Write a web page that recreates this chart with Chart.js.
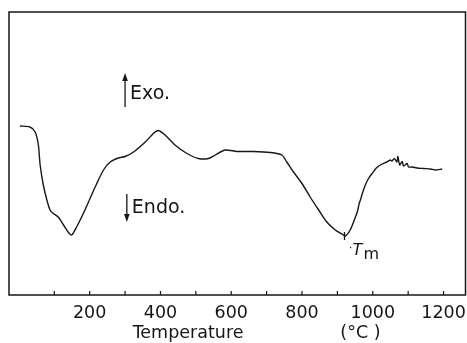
<!DOCTYPE html>
<html>
<head>
<meta charset="utf-8">
<script src="https://cdn.jsdelivr.net/npm/chart.js@4"></script>
<style>
  html, body { margin: 0; padding: 0; background: #fff; }
  #wrap { width: 467px; height: 343px; }
</style>
</head>
<body>
<div id="wrap"><canvas id="dta"></canvas></div>
<script>
// DTA trace (temperature in degC, signal in arbitrary units)
const temps = [3, 31, 46, 55, 60, 69, 79, 88, 97, 111, 126, 140, 149, 163, 182, 201, 220, 239, 258, 281,
  300, 324, 357, 380, 394, 413, 441, 475, 507, 536, 555, 583, 616, 663, 710, 743, 757, 776, 800, 823,
  847, 870, 894, 913, 922, 936, 951, 957, 962, 965, 970, 979, 988, 998, 1010, 1026, 1040, 1049, 1054,
  1061, 1068, 1071, 1076, 1083, 1087, 1097, 1101, 1111, 1125, 1144, 1163, 1177, 1196]
const signal = [169, 168, 163, 150, 130, 110, 95, 85, 81.5, 78, 70, 62.5, 60, 68, 81.5, 96.5, 111.5, 125, 133, 137,
  138.5, 143, 153, 161.5, 164.5, 160, 150, 141.5, 136.5, 136.5, 140, 145, 143.5, 143.5, 142.5, 140, 133, 123, 111.5, 98,
  85, 73, 65, 61, 59, 65, 78, 84, 92, 95, 101, 110, 116.5, 121.5, 127, 131, 133, 135, 134,
  136.5, 133, 138.5, 130, 133.5, 129, 131.5, 128, 128, 127, 126.5, 126, 125, 126]
const tickValues = [100, 200, 300, 400, 500, 600, 700, 800, 900, 1000, 1100, 1200]
const meltTemp = 920

const ink = '#161616'
const font = 'DejaVu Sans'

const points = temps.map((t, i) => ({ x: t, y: signal[i] }))

const decor = {
  id: 'decor',
  afterDraw(chart) {
    const ctx = chart.ctx
    const a = chart.chartArea
    const xs = chart.scales.x, ys = chart.scales.y
    const px = v => xs.getPixelForValue(v)
    const py = v => ys.getPixelForValue(v)
    ctx.save()
    ctx.strokeStyle = ink
    ctx.fillStyle = ink
    // frame
    ctx.lineWidth = 1.5
    ctx.strokeRect(a.left, a.top, a.right - a.left, a.bottom - a.top)
    // inward ticks
    ctx.lineWidth = 1.2
    tickValues.forEach(v => {
      ctx.beginPath()
      ctx.moveTo(px(v), a.bottom)
      ctx.lineTo(px(v), a.bottom - 4)
      ctx.stroke()
    })
    // arrows
    const arrow = (x, y0, y1) => {
      const dir = Math.sign(y1 - y0)
      ctx.lineWidth = 1.3
      ctx.beginPath()
      ctx.moveTo(x, y0)
      ctx.lineTo(x, y1 - dir * 6)
      ctx.stroke()
      ctx.beginPath()
      ctx.moveTo(x, y1)
      ctx.lineTo(x - 2.8, y1 - dir * 8)
      ctx.lineTo(x + 2.8, y1 - dir * 8)
      ctx.closePath()
      ctx.fill()
    }
    arrow(px(300), py(188), py(222))
    arrow(px(305), py(101), py(73))
    ctx.font = '19px "' + font + '"'
    ctx.textBaseline = 'middle'
    ctx.textAlign = 'left'
    ctx.fillText('Exo.', px(300) + 5, py(201))
    ctx.fillText('Endo.', px(305) + 5, py(87))
    // Tm marker
    ctx.lineWidth = 1.3
    ctx.beginPath()
    ctx.moveTo(px(meltTemp), py(63))
    ctx.lineTo(px(meltTemp), py(55))
    ctx.stroke()
    ctx.fillRect(px(meltTemp) + 5.5, py(48), 1.2, 1.2)
    ctx.textBaseline = 'alphabetic'
    ctx.font = 'italic 16px "' + font + '"'
    ctx.fillText('T', px(meltTemp) + 8, py(40))
    ctx.font = '16px "' + font + '"'
    ctx.fillText('m', px(meltTemp) + 19, py(36))
    // axis title
    ctx.font = '17.5px "' + font + '"'
    ctx.textAlign = 'center'
    ctx.textBaseline = 'middle'
    ctx.fillText('Temperature', px(478), 333)
    ctx.fillText('(\u00b0C )', px(965), 333)
    ctx.restore()
  }
}

new Chart(document.getElementById('dta'), {
  type: 'scatter',
  data: {
    datasets: [{
      data: points,
      showLine: true,
      borderColor: ink,
      borderWidth: 1.4,
      pointRadius: 0,
      tension: 0.25
    }]
  },
  options: {
    responsive: true,
    maintainAspectRatio: false,
    animation: false,
    layout: { padding: { left: 9, right: 1.5, top: 12, bottom: 0 } },
    plugins: { legend: { display: false }, tooltip: { enabled: false } },
    scales: {
      x: {
        type: 'linear',
        min: -28,
        max: 1262,
        afterBuildTicks(scale) {
          scale.ticks = tickValues.map(v => ({ value: v }))
        },
        afterFit(scale) {
          scale.height = 48
          scale.paddingLeft = 0
          scale.paddingRight = 0
        },
        grid: { display: false, drawTicks: false },
        border: { display: false },
        ticks: {
          maxRotation: 0,
          autoSkip: false,
          padding: 8,
          color: ink,
          font: { family: font, size: 17.5 },
          callback: v => (v % 200 === 0 ? String(v) : '')
        }
      },
      y: {
        display: false,
        min: 0,
        max: 283
      }
    }
  },
  plugins: [decor]
})
</script>
</body>
</html>
